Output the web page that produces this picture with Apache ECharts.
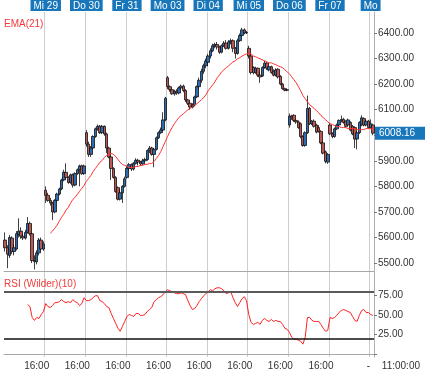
<!DOCTYPE html>
<html><head><meta charset="utf-8">
<script src="https://cdn.jsdelivr.net/npm/echarts@6/dist/echarts.min.js"></script>
<style>html,body{margin:0;padding:0;background:#fff}#c{width:425px;height:371px}</style>
</head><body><div id="c"></div>
<script>
const dayLabels = ['Di 28','Mi 29','Do 30','Fr 31','Mo 03','Di 04','Mi 05','Do 06','Fr 07','Mo'];
const sessionTimes = ['09:00','09:30','10:00','10:30','11:00','11:30','12:00','12:30','13:00','13:30','14:00','14:30','15:00','15:30','16:00','16:30','17:00','17:30'];
const lastSessionTimes = ['10:30','11:00'];
const priceTicks = [5500,5600,5700,5800,5900,6000,6100,6200,6300,6400];
const rsiLabelTicks = [25,50,75];
const rsiTickMarks = [0,25,50,75];
const rsiLevels = [80,20];

// [open, close, low, high]
const day0 = [[5590,5560,5545,5620],[5560,5535,5480,5570],[5530,5600,5520,5610],[5598,5545,5535,5605],[5545,5560,5530,5575],[5555,5615,5550,5625],[5612,5625,5600,5675],[5625,5605,5595,5640],[5605,5598,5590,5615],[5598,5620,5592,5630],[5620,5655,5615,5680],[5655,5615,5608,5662],[5615,5510,5500,5620],[5510,5505,5475,5530],[5505,5540,5495,5550],[5540,5590,5530,5598],[5590,5555,5550,5600],[5555,5575,5548,5585]];
const day1 = [[5785,5765,5735,5800],[5765,5745,5740,5775],[5745,5735,5725,5755],[5735,5700,5668,5740],[5700,5745,5695,5750],[5745,5770,5740,5775],[5770,5790,5765,5795],[5790,5825,5785,5830],[5825,5855,5820,5865],[5855,5835,5830,5890],[5835,5815,5810,5840],[5815,5845,5810,5850],[5845,5805,5795,5850],[5805,5850,5800,5855],[5850,5865,5845,5870],[5865,5880,5800,5885],[5880,5850,5845,5885],[5850,5880,5845,5885]];
const day2 = [[6010,5965,5955,6020],[5965,5925,5915,5975],[5925,5950,5915,5958],[5950,5995,5945,6000],[5995,6025,5990,6030],[6025,6035,6018,6042],[6035,6010,6005,6040],[6010,6035,6005,6040],[6035,6005,5998,6038],[6005,5950,5930,6010],[5950,5915,5910,5955],[5915,5870,5825,5920],[5870,5835,5830,5875],[5835,5780,5775,5840],[5795,5750,5745,5800],[5750,5775,5745,5790],[5775,5800,5735,5805],[5800,5830,5795,5838]];
const day3 = [[5835,5870,5830,5880],[5870,5885,5862,5892],[5885,5868,5860,5890],[5868,5890,5862,5895],[5890,5902,5885,5910],[5902,5895,5882,5908],[5895,5888,5880,5900],[5888,5900,5884,5908],[5900,5905,5895,5912],[5905,5940,5900,5945],[5940,5950,5930,5958],[5950,5925,5920,5955],[5925,5945,5875,5950],[5945,5990,5940,5995],[5990,6010,5985,6015],[6010,6020,6005,6030],[6020,6060,6015,6090],[6060,6145,6055,6150]];
const day4 = [[6225,6190,6180,6232],[6190,6178,6170,6195],[6178,6162,6158,6182],[6162,6172,6155,6178],[6172,6165,6158,6180],[6165,6185,6160,6190],[6185,6192,6178,6198],[6192,6175,6168,6198],[6175,6138,6130,6180],[6138,6125,6118,6142],[6125,6110,6100,6128],[6110,6118,6105,6125],[6118,6150,6112,6155],[6150,6190,6145,6195],[6190,6215,6180,6225],[6215,6250,6205,6260],[6250,6272,6240,6280],[6272,6290,6262,6300]];
const day5 = [[6285,6310,6270,6318],[6310,6330,6300,6340],[6330,6350,6325,6358],[6350,6355,6340,6362],[6355,6345,6335,6365],[6345,6325,6318,6350],[6325,6350,6320,6355],[6350,6360,6345,6368],[6360,6340,6335,6372],[6340,6365,6335,6372],[6365,6370,6355,6378],[6370,6340,6325,6375],[6340,6320,6300,6345],[6320,6370,6315,6378],[6370,6390,6365,6398],[6390,6412,6385,6420],[6412,6400,6395,6418],[6400,6402,6396,6408]];
const day6 = [[6340,6310,6300,6350],[6310,6245,6238,6315],[6265,6245,6238,6270],[6245,6262,6240,6268],[6262,6235,6228,6265],[6235,6228,6205,6245],[6232,6265,6228,6270],[6265,6282,6260,6292],[6282,6262,6255,6286],[6255,6268,6250,6272],[6268,6245,6240,6272],[6250,6235,6230,6258],[6235,6255,6230,6262],[6258,6228,6222,6262],[6230,6200,6195,6235],[6200,6182,6178,6205],[6182,6176,6172,6186],[6176,6178,6172,6182]];
const day7 = [[6040,6075,6030,6085],[6075,6068,6060,6080],[6078,6058,6052,6082],[6058,6052,6045,6062],[6052,6030,6025,6058],[6045,5995,5988,6050],[5995,5960,5955,6000],[5960,6010,5955,6015],[6010,6105,6005,6155],[6105,6045,6040,6110],[6045,6055,6040,6060],[6055,6035,6030,6062],[6040,6012,6008,6045],[6030,6015,6010,6040],[6015,5970,5965,6020],[5970,5930,5925,5975],[5935,5898,5890,5940],[5895,5925,5888,5930]];
const day8 = [[6040,6005,6000,6048],[6005,5995,5988,6012],[5995,6025,5990,6030],[6025,6040,6020,6045],[6040,6058,6035,6062],[6058,6062,6050,6077],[6062,6050,6045,6068],[6055,6035,6030,6058],[6040,6060,6035,6065],[6050,6020,6015,6055],[6035,6005,6000,6040],[6030,5985,5950,6035],[5985,6010,5945,6015],[6010,6050,6005,6055],[6040,6068,6035,6078],[6065,6040,6035,6070],[6040,6055,6035,6060],[6055,6030,6025,6060]];
const day9 = [[6030,6045,6025,6062],[6040,6008.16,6000,6045]];

const ema21 = [null,null,null,null,null,null,null,null,null,null,null,null,null,null,null,null,null,null,null,null,
5617,5625,5636,5648,5664,5679,5691,5707,5718,5734,
5749,5757,5769,5781,5792,5804,5820,5831,5843,5858,
5870,5882,5894,5901,5913,5921,5925,5929,5925,5917,
5905,5894,5886,5882,5878,5874,5874,5874,5878,5878,
5882,5882,5886,5886,5890,5890,5897,5909,5921,5936,
5956,5975,5995,6014,6030,6045,6057,6069,6077,6084,
6092,6100,6104,6112,6119,6123,6131,6139,6147,6158,
6174,6186,6197,6209,6225,6236,6248,6256,6264,6271,
6279,6287,6291,6299,6303,6310,6314,6318,6322,6318,
6310,6307,6303,6299,6295,6291,6287,6283,6283,6279,
6276,6271,6268,6264,6256,6248,6240,6229,6217,6205,
6190,6174,6155,6143,6131,6119,6112,6104,6096,6088,
6077,6069,6061,6053,6045,6042,6038,6034,6034,6030,
6030,6030,6026,6026,6026,6026,6022,6022,6022,6022,
6026,6026,6026,6022];

const rsi10 = [null,null,null,null,null,null,null,null,null,null,
63.5,61.0,47.0,43.2,47.0,45.7,50.8,54.6,64.8,61.0,
59.7,62.2,66.0,66.0,67.3,69.9,67.3,66.0,67.3,66.0,
69.9,67.3,66.0,62.2,64.8,72.4,68.6,68.6,69.9,72.4,
74.9,74.9,68.6,67.3,64.8,61.0,59.7,52.1,45.7,39.4,
33.1,29.3,35.6,41.9,48.3,50.8,49.6,48.3,52.1,52.1,
49.6,49.6,50.8,54.6,57.2,59.7,67.3,69.9,72.4,73.7,
76.2,80.0,82.5,81.3,80.0,78.7,77.5,77.5,78.7,77.5,
76.2,68.6,62.2,57.2,58.4,62.2,67.3,71.1,74.9,77.5,
80.0,82.5,81.3,83.8,85.1,85.1,83.8,81.3,77.5,78.7,
80.0,72.4,66.0,61.0,66.0,71.1,73.7,68.6,50.8,40.7,
38.1,39.4,40.7,38.1,43.2,45.7,43.2,41.9,44.5,41.9,
43.2,41.9,41.9,38.1,33.1,31.8,28.0,21.6,19.1,19.1,
17.8,16.6,12.8,21.6,47.0,47.0,43.2,41.9,41.9,41.9,
38.1,33.1,29.3,30.5,47.0,45.7,47.0,49.6,53.4,55.9,
57.2,55.9,54.6,53.4,48.3,43.2,41.9,49.6,55.9,57.2,
53.4,53.4,50.8,49.6];

// ---- build categories ----
const days = [day0,day1,day2,day3,day4,day5,day6,day7,day8,day9];
const categories = [], dayOf = [], timeOf = [], dayStart = new Set();
const ohlc = [];
days.forEach((d, di) => {
  const times = di === days.length - 1 ? lastSessionTimes : sessionTimes;
  if (di > 0) dayStart.add(categories.length);
  d.forEach((bar, k) => {
    categories.push(dayLabels[di] + ' ' + times[k]);
    dayOf.push(di); timeOf.push(times[k]);
    ohlc.push(bar);
  });
});
const n = categories.length;
const lastBar = day9[day9.length - 1];
const lastClose = lastBar[1];
const lastTime = lastSessionTimes[lastSessionTimes.length - 1];
const dashIdx = n - 3;

const FONT = '"Liberation Sans", Arial, sans-serif';
const BLUE = '#1876ba';
const gridLine = { show: true, interval: (i) => dayStart.has(i), lineStyle: { color: '#cdcdcd', width: 1 } };

const chart = echarts.init(document.getElementById('c'), null, { renderer: 'canvas' });
chart.setOption({
  animation: false,
  textStyle: { fontFamily: FONT },
  legend: [
    { data: [{ name: 'EMA(21)', icon: 'none' }], left: -1, top: 19, padding: 0, itemWidth: 0, itemHeight: 10, selectedMode: false,
      textStyle: { color: '#f03a3a', fontSize: 10, fontFamily: FONT } },
    { data: [{ name: 'RSI (Wilder)(10)', icon: 'none' }], left: -1, top: 279, padding: 0, itemWidth: 0, itemHeight: 10, selectedMode: false,
      textStyle: { color: '#f03a3a', fontSize: 10, fontFamily: FONT } }
  ],
  grid: [
    { left: 4, right: 51, top: 11, height: 260 },
    { left: 4, right: 51, top: 271, height: 87 }
  ],
  xAxis: [
    { type: 'category', gridIndex: 0, data: categories, boundaryGap: true,
      axisLine: { show: true, lineStyle: { color: '#a8a8a8' } }, axisTick: { show: false }, axisLabel: { show: false },
      splitLine: gridLine },
    { type: 'category', gridIndex: 1, data: categories, boundaryGap: true,
      axisLine: { show: true, lineStyle: { color: '#a8a8a8' } }, axisTick: { show: false },
      axisLabel: { interval: (i) => (timeOf[i] === '16:00' && dayOf[i] < 8) || i === dashIdx,
        formatter: (v, i) => i === dashIdx ? '-' : timeOf[i], color: '#333', fontSize: 10, margin: 4, fontFamily: FONT },
      splitLine: gridLine },
    { type: 'category', gridIndex: 0, position: 'top', data: categories, boundaryGap: true,
      axisLine: { show: false }, axisTick: { show: false },
      axisLabel: { interval: (i) => dayStart.has(i), formatter: (v, i) => dayLabels[dayOf[i]],
        color: '#fff', backgroundColor: BLUE, fontSize: 10, lineHeight: 10, padding: [1, 3, 0, 3], margin: 1, fontFamily: FONT },
      splitLine: { show: false } }
  ],
  yAxis: [
    { type: 'value', gridIndex: 0, position: 'right', min: 5469, max: 6482,
      axisLine: { show: true, lineStyle: { color: '#b0b0b0' } },
      axisTick: { show: true, customValues: priceTicks, length: 3, lineStyle: { color: '#777' } },
      axisLabel: { customValues: priceTicks, formatter: (v) => v.toFixed(2), color: '#333', fontSize: 10, margin: 4, fontFamily: FONT },
      splitLine: { show: false } },
    { type: 'value', gridIndex: 1, position: 'right', min: -3.7, max: 106.6,
      axisLine: { show: true, lineStyle: { color: '#b0b0b0' } },
      axisTick: { show: true, customValues: rsiTickMarks, length: 3, lineStyle: { color: '#777' } },
      axisLabel: { customValues: rsiLabelTicks, formatter: (v) => v.toFixed(2), color: '#333', fontSize: 10, margin: 4, fontFamily: FONT },
      splitLine: { show: false } }
  ],
  series: [
    { type: 'candlestick', name: 'Kurs', xAxisIndex: 0, yAxisIndex: 0, data: ohlc, barWidth: 3, clip: false,
      itemStyle: { color: '#2a6db2', color0: '#bb5650', borderColor: '#111', borderColor0: '#111', borderWidth: 0.8 },
      markLine: { silent: true, symbol: ['none', 'none'], lineStyle: { color: 'rgba(0,0,0,0)', width: 0 },
        label: { show: true, position: 'end', distance: 1, formatter: () => lastClose.toFixed(2), color: '#fff', backgroundColor: BLUE,
          fontSize: 10, padding: [2, 14, 1, 4], fontFamily: FONT },
        data: [{ yAxis: lastClose }] } },
    { type: 'line', name: 'EMA(21)', xAxisIndex: 0, yAxisIndex: 0, data: ema21, showSymbol: false, symbol: 'none',
      lineStyle: { color: '#ff3030', width: 1 }, itemStyle: { color: '#ff3030' } },
    { type: 'line', name: 'RSI (Wilder)(10)', xAxisIndex: 1, yAxisIndex: 1, data: rsi10, showSymbol: false, symbol: 'none',
      lineStyle: { color: '#ff2020', width: 1 }, itemStyle: { color: '#ff2020' },
      markLine: { silent: true, symbol: ['none', 'none'], label: { show: false },
        data: [ { yAxis: rsiLevels[0], lineStyle: { color: '#5a5a5a', width: 2, type: 'solid' } },
                { yAxis: rsiLevels[1], lineStyle: { color: '#111', width: 1.5, type: 'solid' } } ] } }
  ],
  graphic: [
    { type: 'text', right: 5, top: 361, style: { text: lastTime + ':00', fill: '#333', font: '10px ' + FONT } }
  ]
});
</script></body></html>
